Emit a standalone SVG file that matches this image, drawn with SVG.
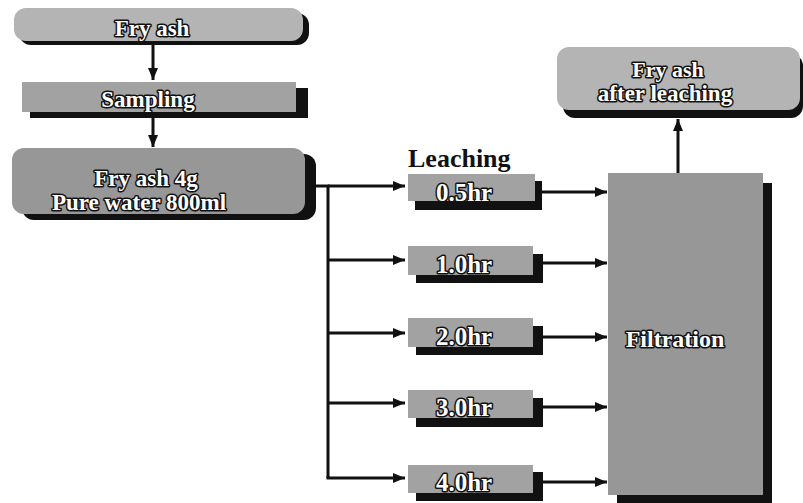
<svg xmlns="http://www.w3.org/2000/svg" width="803" height="503" viewBox="0 0 803 503">
<style>
.shadow{fill:#111}
.light{fill:#b4b4b4}
.mid{fill:#a2a2a2}
.dark{fill:#979797}
.lbl{font-family:"Liberation Serif","Times New Roman",serif;font-weight:bold;fill:#fff;stroke:#111;stroke-width:3;paint-order:stroke;stroke-linejoin:round;text-anchor:middle}
.plain{font-family:"Liberation Serif","Times New Roman",serif;font-weight:bold;fill:#111;font-size:26px}
.conn{stroke:#111;stroke-width:3;fill:none}
</style>
<defs>
<marker id="ah" viewBox="0 0 12 10" refX="12" refY="5" markerWidth="12" markerHeight="10" markerUnits="userSpaceOnUse" orient="auto">
<path d="M0,0 L12,5 L0,10 Z" fill="#111"/>
</marker>
</defs>
<rect width="803" height="503" fill="#fff"/>

<g id="fryash">
<rect class="shadow" x="19" y="13" width="290" height="32" rx="12"/>
<rect class="light" x="14" y="8" width="289" height="33" rx="12"/>
<text class="lbl" x="152" y="36" font-size="23">Fry ash</text>
</g>

<g id="sampling">
<rect class="shadow" x="30" y="88" width="278" height="30"/>
<rect class="mid" x="22" y="82" width="274" height="30"/>
<text class="lbl" x="148" y="107" font-size="23">Sampling</text>
</g>

<g id="mix">
<rect class="shadow" x="22" y="154" width="294" height="66" rx="12"/>
<rect class="dark" x="12" y="148" width="293" height="66" rx="12"/>
<text class="lbl" x="146" y="186" font-size="23">Fry ash 4g</text>
<text class="lbl" x="139" y="210" font-size="23">Pure water 800ml</text>
</g>

<g id="leaching-label">
<text class="plain" x="408" y="167">Leaching</text>
</g>

<g id="t05">
<rect class="shadow" x="415" y="181" width="127" height="29"/>
<rect class="mid" x="408" y="174" width="127" height="27"/>
<text class="lbl" x="464" y="201" font-size="25">0.5hr</text>
</g>
<g id="t10">
<rect class="shadow" x="416" y="254" width="127" height="29"/>
<rect class="mid" x="408" y="246" width="125" height="29"/>
<text class="lbl" x="464" y="273" font-size="25">1.0hr</text>
</g>
<g id="t20">
<rect class="shadow" x="416" y="326" width="127" height="29"/>
<rect class="mid" x="408" y="318" width="125" height="29"/>
<text class="lbl" x="464" y="345" font-size="25">2.0hr</text>
</g>
<g id="t30">
<rect class="shadow" x="416" y="398" width="127" height="29"/>
<rect class="mid" x="408" y="390" width="125" height="28"/>
<text class="lbl" x="464" y="416" font-size="25">3.0hr</text>
</g>
<g id="t40">
<rect class="shadow" x="416" y="472" width="127" height="29"/>
<rect class="mid" x="408" y="465" width="125" height="28"/>
<text class="lbl" x="464" y="491" font-size="25">4.0hr</text>
</g>

<g id="filtration">
<rect class="shadow" x="617" y="183" width="155" height="320"/>
<rect class="dark" x="608" y="173" width="155" height="322"/>
<text class="lbl" x="675" y="347" font-size="24">Filtration</text>
</g>

<g id="after">
<rect class="shadow" x="563" y="54" width="240" height="64" rx="12"/>
<rect class="light" x="557" y="47" width="243" height="63" rx="12"/>
<text class="lbl" x="668" y="77" font-size="22">Fry ash</text>
<text class="lbl" x="665" y="101" font-size="23">after leaching</text>
</g>

<g id="connectors">
<line class="conn" x1="153" y1="45" x2="153" y2="80" marker-end="url(#ah)"/>
<line class="conn" x1="153" y1="118" x2="153" y2="147" marker-end="url(#ah)"/>
<polyline class="conn" points="316,186 328,186 328,478"/>
<line class="conn" x1="328" y1="186" x2="405" y2="186" marker-end="url(#ah)"/>
<line class="conn" x1="328" y1="260" x2="405" y2="260" marker-end="url(#ah)"/>
<line class="conn" x1="328" y1="333" x2="405" y2="333" marker-end="url(#ah)"/>
<line class="conn" x1="328" y1="403" x2="405" y2="403" marker-end="url(#ah)"/>
<polyline class="conn" points="328,476 328,478 405,478" marker-end="url(#ah)"/>
<line class="conn" x1="542" y1="192" x2="607" y2="192" marker-end="url(#ah)"/>
<line class="conn" x1="543" y1="263" x2="607" y2="263" marker-end="url(#ah)"/>
<line class="conn" x1="543" y1="337" x2="607" y2="337" marker-end="url(#ah)"/>
<line class="conn" x1="543" y1="407" x2="607" y2="407" marker-end="url(#ah)"/>
<line class="conn" x1="543" y1="482" x2="607" y2="482" marker-end="url(#ah)"/>
<line class="conn" x1="678" y1="173" x2="678" y2="119" marker-end="url(#ah)"/>
</g>
</svg>
